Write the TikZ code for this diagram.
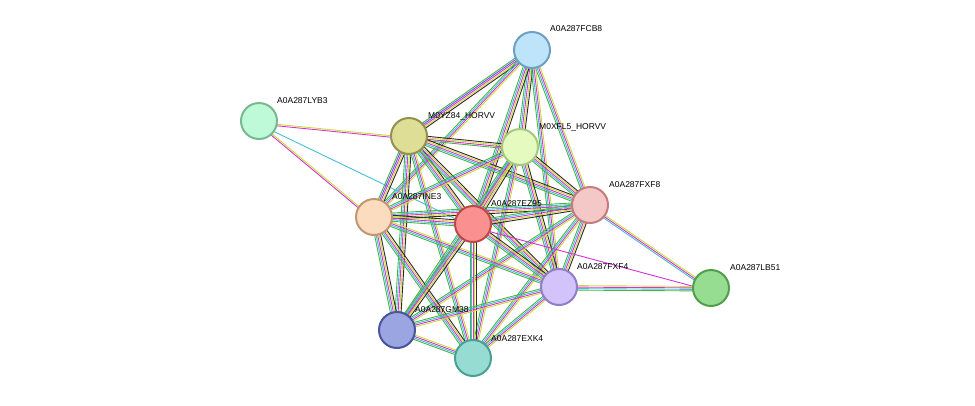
\documentclass[tikz,border=0pt]{standalone}
\usepackage{fontspec}
\setmainfont{Liberation Sans}
\usetikzlibrary{calc,backgrounds}

\definecolor{emg}{RGB}{215,50,215}
\definecolor{eyl}{RGB}{200,220,50}
\definecolor{ecy}{RGB}{70,190,215}
\definecolor{egr}{RGB}{70,180,70}
\definecolor{ebk}{RGB}{50,40,40}
\definecolor{ebl}{RGB}{90,90,225}

\tikzset{
  prot/.style={circle,minimum size=36pt,inner sep=0pt,line width=2pt},
  plabel/.style={anchor=base west,font=\fontsize{8.5pt}{9pt}\selectfont,inner sep=0pt}
}

% one colour per parallel line
\newcommand{\sedge}[3]{%
  \foreach \c [count=\i] in {#3} {
    \pgfmathsetmacro\off{(\i-3)*1.5}
    \draw[\c,line width=0.9pt] ($(#1)!\off pt!90:(#2)$) -- ($(#2)!\off pt!-90:(#1)$);
  }}

\begin{document}
\begin{tikzpicture}[x=1pt,y=-1pt]
    \useasboundingbox (0,0) rectangle (975,405);

    \node[prot,fill={rgb,255:red,190;green,228;blue,250},draw={rgb,255:red,110;green,160;blue,195}] (fcb8) at (532,50) {};
    \node[prot,fill={rgb,255:red,190;green,250;blue,215},draw={rgb,255:red,120;green,185;blue,145}] (lyb3) at (259,121) {};
    \node[prot,fill={rgb,255:red,222;green,222;blue,150},draw={rgb,255:red,145;green,145;blue,80}] (m0yz84) at (409,136) {};
    \node[prot,fill={rgb,255:red,228;green,250;blue,190},draw={rgb,255:red,165;green,200;blue,130}] (m0xfl5) at (520,147) {};
    \node[prot,fill={rgb,255:red,245;green,200;blue,200},draw={rgb,255:red,195;green,125;blue,125}] (fxf8) at (590,205) {};
    \node[prot,fill={rgb,255:red,252;green,220;blue,190},draw={rgb,255:red,195;green,150;blue,115}] (ine3) at (374,217) {};
    \node[prot,fill={rgb,255:red,250;green,145;blue,145},draw={rgb,255:red,195;green,70;blue,70}] (ez95) at (473,224) {};
    \node[prot,fill={rgb,255:red,210;green,195;blue,250},draw={rgb,255:red,145;green,125;blue,200}] (fxf4) at (559,287) {};
    \node[prot,fill={rgb,255:red,150;green,220;blue,145},draw={rgb,255:red,80;green,160;blue,75}] (lb51) at (711,288) {};
    \node[prot,fill={rgb,255:red,155;green,165;blue,225},draw={rgb,255:red,75;green,85;blue,155}] (gm38) at (397,330) {};
    \node[prot,fill={rgb,255:red,150;green,220;blue,210},draw={rgb,255:red,75;green,160;blue,150}] (exk4) at (473,358) {};

    \node[plabel] (tfcb8) at (550,31) {A0A287FCB8};
    \node[plabel] (tlyb3) at (277,103) {A0A287LYB3};
    \node[plabel] (tm0yz84) at (428,118) {M0YZ84\_HORVV};
    \node[plabel] (tm0xfl5) at (539,129) {M0XFL5\_HORVV};
    \node[plabel] (tfxf8) at (609,187) {A0A287FXF8};
    \node[plabel] (tine3) at (392,199) {A0A287INE3};
    \node[plabel] (tez95) at (491,206) {A0A287EZ95};
    \node[plabel] (tfxf4) at (577,269) {A0A287FXF4};
    \node[plabel] (tlb51) at (730,270) {A0A287LB51};
    \node[plabel] (tgm38) at (415,312) {A0A287GM38};
    \node[plabel] (texk4) at (491,341) {A0A287EXK4};

    \begin{scope}[on background layer]
    \sedge{fcb8}{m0yz84}{egr,ebl,emg,eyl,ebk}
    \sedge{fcb8}{m0xfl5}{egr,ecy,emg,eyl,ebk}
    \sedge{fcb8}{fxf8}{egr,ecy,emg,eyl}
    \sedge{fcb8}{ine3}{egr,ecy,emg,eyl}
    \sedge{fcb8}{ez95}{egr,ecy,emg,eyl,ebk}
    \sedge{fcb8}{fxf4}{egr,ecy,emg,eyl}
    \sedge{lyb3}{m0yz84}{emg,eyl}
    \sedge{lyb3}{ine3}{emg,eyl}
    \sedge{lyb3}{ez95}{ecy}
    \sedge{m0yz84}{m0xfl5}{egr,emg,eyl,ebk}
    \sedge{m0yz84}{fxf8}{egr,ecy,emg,eyl,ebk}
    \sedge{m0yz84}{ine3}{egr,ebl,emg,eyl,ebk}
    \sedge{m0yz84}{ez95}{egr,ecy,emg,eyl,ebk}
    \sedge{m0yz84}{fxf4}{egr,ecy,emg,eyl,ebk}
    \sedge{m0yz84}{gm38}{egr,ecy,emg,eyl,ebk}
    \sedge{m0yz84}{exk4}{egr,ecy,emg,eyl}
    \sedge{m0xfl5}{fxf8}{egr,ecy,emg,eyl,ebk}
    \sedge{m0xfl5}{ine3}{egr,ecy,emg,eyl}
    \sedge{m0xfl5}{ez95}{egr,ecy,emg,eyl,ebk}
    \sedge{m0xfl5}{fxf4}{egr,ecy,emg,eyl,ebk}
    \sedge{m0xfl5}{gm38}{egr,ecy,emg,eyl}
    \sedge{m0xfl5}{exk4}{egr,ecy,emg,eyl}
    \sedge{fxf8}{ine3}{egr,ecy,emg,eyl,ebk}
    \sedge{fxf8}{ez95}{egr,ecy,emg,eyl,ebk}
    \sedge{fxf8}{fxf4}{egr,ecy,emg,eyl,ebk}
    \sedge{fxf8}{lb51}{ecy,emg,eyl}
    \sedge{fxf8}{gm38}{egr,ecy,emg,eyl}
    \sedge{fxf8}{exk4}{egr,ecy,emg,eyl}
    \sedge{ine3}{ez95}{egr,ecy,emg,eyl,ebk}
    \sedge{ine3}{fxf4}{egr,ecy,emg,eyl}
    \sedge{ine3}{gm38}{egr,ecy,emg,eyl,ebk}
    \sedge{ine3}{exk4}{egr,ecy,emg,eyl,ebk}
    \sedge{ez95}{fxf4}{egr,ecy,emg,eyl,ebk}
    \sedge{ez95}{lb51}{emg}
    \sedge{ez95}{gm38}{egr,ecy,emg,eyl,ebk}
    \sedge{ez95}{exk4}{egr,ecy,emg,eyl,ebk}
    \sedge{fxf4}{lb51}{egr,ecy,emg,eyl}
    \sedge{fxf4}{gm38}{egr,ecy,emg,eyl}
    \sedge{fxf4}{exk4}{egr,ecy,emg,eyl}
    \sedge{gm38}{exk4}{egr,ecy,emg,eyl}
    \end{scope}
\end{tikzpicture}
\end{document}
